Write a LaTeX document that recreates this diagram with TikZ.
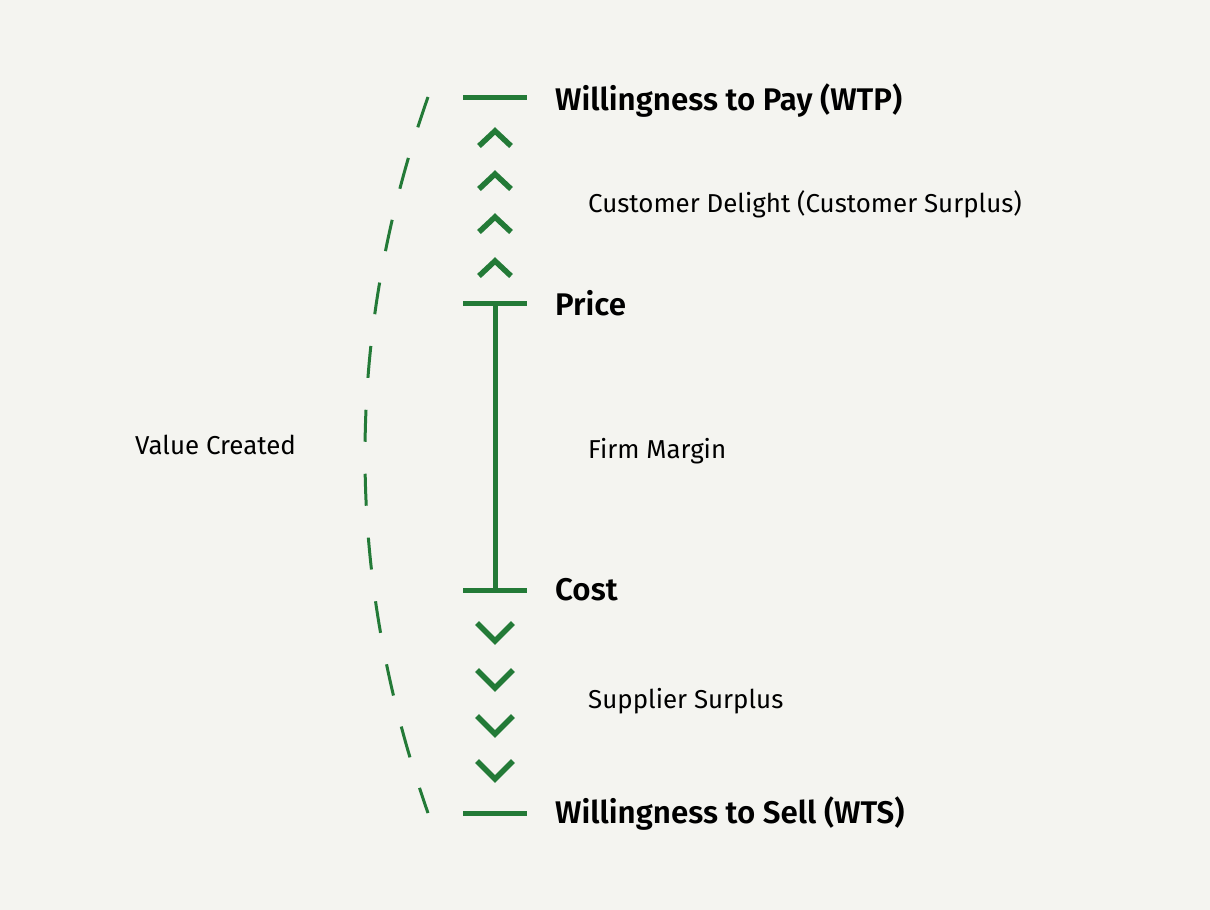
\documentclass[tikz,border=0pt]{standalone}
\usepackage{fontspec}
\setmainfont{Fira Sans}[BoldFont={Fira Sans SemiBold}]
\usepackage{tikz}
\usetikzlibrary{positioning}
\usepackage{xcolor}

\definecolor{bgpaper}{RGB}{244,244,240}
\definecolor{margingreen}{RGB}{35,122,55}

\tikzset{
  level/.style={margingreen, line width=5pt},
  chevron/.style={margingreen, line width=5.5pt, line join=miter},
  levellabel/.style={anchor=west, inner sep=0pt, font=\fontsize{31.3}{35}\selectfont\bfseries},
  bandlabel/.style={anchor=west, inner sep=0pt, font=\fontsize{25.9}{30}\selectfont}
}

\begin{document}
\begin{tikzpicture}[x=1pt, y=-1pt]
\fill[bgpaper] (0,0) rectangle (1210,910);

% the four levels
\coordinate (wtp) at (495,97);
\coordinate (price) at (495,303);
\coordinate (cost) at (495,590);
\coordinate (wts) at (495,813);

\foreach \lvl in {wtp,price,cost,wts}
  \draw[level] ([xshift=-32pt]\lvl) -- ([xshift=32pt]\lvl);

\draw[level] (price) -- (cost);

% customer delight, pointing up
\foreach \y in {131,174,217,261}
  \draw[chevron] (479,\y+15)--++(16,-15)--++(16,15);

% supplier surplus, pointing down
\foreach \y in {641,688,734,779}
  \draw[chevron] (477,\y-18)--++(18,18)--++(18,-18);

% value created
\draw[margingreen, line width=3pt, dash pattern=on 32pt off 32pt]
  (428,97) .. controls (344,336) and (344,574) .. (428,813);

\node[levellabel] (wtplabel) at (555,101) {Willingness to Pay (WTP)};
\node[levellabel] (pricelabel) at (555,303) {Price};
\node[levellabel] (costlabel) at (555,590) {Cost};
\node[levellabel] (wtslabel) at (555,814) {Willingness to Sell (WTS)};

\node[bandlabel] (delight) at (588,204) {Customer Delight (Customer Surplus)};
\node[bandlabel] (margin) at (588,451) {Firm Margin};
\node[bandlabel] (supplier) at (588,701) {Supplier Surplus};
\node[bandlabel] (valuecreated) at (135,445) {Value Created};

\end{tikzpicture}
\end{document}
